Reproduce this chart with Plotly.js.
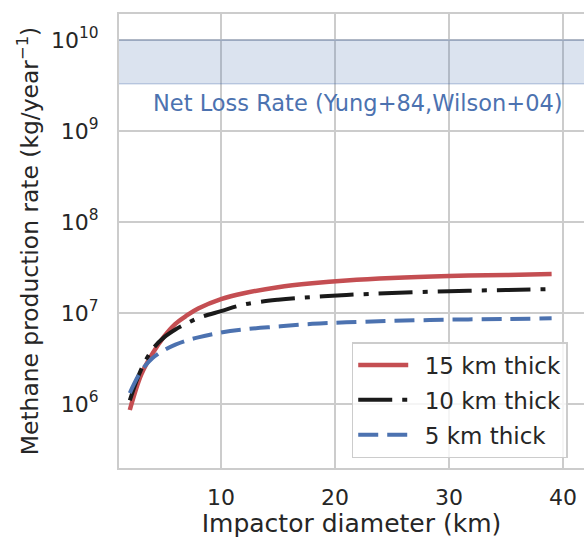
<!DOCTYPE html>
<html>
<head>
<meta charset="utf-8">
<script src="https://cdn.plot.ly/plotly-3.0.1.min.js"></script>
<style>html,body{margin:0;padding:0;background:#fff;}#chart{width:584px;height:538px;}</style>
</head>
<body>
<div id="chart"></div>
<script>
const diameterKm = [2, 3, 4, 5, 6, 7, 8, 10, 12, 15, 18, 21, 25, 30, 35, 39];
const rate15km = [8.6e5, 2.1e6, 3.6e6, 5.5e6, 7.6e6, 9.4e6, 1.12e7, 1.42e7, 1.65e7, 1.92e7, 2.12e7, 2.28e7, 2.43e7, 2.55e7, 2.62e7, 2.68e7];
const rate10km = [1.1e6, 2.4e6, 4.0e6, 5.4e6, 6.6e6, 7.7e6, 8.8e6, 1.05e7, 1.24e7, 1.40e7, 1.50e7, 1.58e7, 1.66e7, 1.74e7, 1.79e7, 1.83e7];
const rate5km = [1.32e6, 2.3e6, 3.2e6, 3.9e6, 4.5e6, 5.0e6, 5.4e6, 6.1e6, 6.6e6, 7.1e6, 7.6e6, 7.9e6, 8.2e6, 8.45e6, 8.6e6, 8.75e6];
const seriesNames = ['15 km thick', '10 km thick', '5 km thick'];
const netLossBand = [3.3e9, 1.0e10];
const netLossLabel = 'Net Loss Rate (Yung+84,Wilson+04)';
const yTickVals = [1e6, 1e7, 1e8, 1e9, 1e10];
const yTickText = ['10<sup>6</sup>', '10<sup>7</sup>', '10<sup>8</sup>', '10<sup>9</sup>', '10<sup>10</sup>'];
const xTickVals = [10, 20, 30, 40];

const font = 'DejaVu Sans, Verdana, sans-serif';
const pad = '\u2002';
const traces = [
  {x: diameterKm, y: rate15km, name: pad + seriesNames[0], legendgroup: 'a', mode: 'lines', line: {color: '#C44E52', width: 4.5, shape: 'spline'}},
  {x: diameterKm, y: rate10km, name: pad + seriesNames[1], legendgroup: 'b', mode: 'lines', line: {color: '#1a1a1a', width: 4, dash: '34px,10px,5px,10px', shape: 'spline'}},
  {x: diameterKm, y: rate5km, name: pad + seriesNames[2], legendgroup: 'c', mode: 'lines', line: {color: '#4C72B0', width: 4, dash: '20px,9px', shape: 'spline'}}
];
const bandEdge = {color: 'rgba(76,114,176,0.3)', width: 1.5};
const layout = {
  width: 584, height: 538,
  margin: {l: 119, r: 0, t: 14, b: 70},
  paper_bgcolor: '#fff', plot_bgcolor: '#fff',
  font: {family: font, color: '#262626', size: 22},
  showlegend: true,
  legend: {x: 0.965, y: 0.022, xanchor: 'right', yanchor: 'bottom',
    bgcolor: 'rgba(255,255,255,0.8)', bordercolor: '#cccccc', borderwidth: 1.5,
    font: {size: 23, color: '#262626'}, itemwidth: 50, traceorder: 'grouped', tracegroupgap: 2},
  xaxis: {range: [1.053, 41.84], tickvals: xTickVals, showgrid: true, gridcolor: '#cccccc', gridwidth: 1.5,
    showline: true, mirror: true, linecolor: '#cccccc', linewidth: 2, zeroline: false,
    ticks: '', ticklabelstandoff: 9, tickfont: {size: 22},
    title: {text: 'Impactor diameter (km)', font: {size: 25}, standoff: 14}},
  yaxis: {type: 'log', range: [5.297, 10.286], tickvals: yTickVals, ticktext: yTickText,
    showgrid: true, gridcolor: '#cccccc', gridwidth: 1.5,
    showline: true, mirror: false, linecolor: '#cccccc', linewidth: 2, zeroline: false,
    ticks: '', ticklabelstandoff: 14, tickfont: {size: 22},
    title: {text: 'Methane production rate (kg/year<sup>\u22121</sup>)', font: {size: 23.4}, standoff: 6}},
  shapes: [
    {type: 'rect', xref: 'paper', yref: 'y', x0: 0, x1: 1, y0: netLossBand[0], y1: netLossBand[1],
      fillcolor: 'rgba(76,114,176,0.2)', line: {width: 0}, layer: 'above'},
    {type: 'line', xref: 'paper', yref: 'y', x0: 0, x1: 1, y0: netLossBand[0], y1: netLossBand[0], line: bandEdge, layer: 'above'},
    {type: 'line', xref: 'paper', yref: 'y', x0: 0, x1: 1, y0: netLossBand[1], y1: netLossBand[1], line: bandEdge, layer: 'above'}
  ],
  annotations: [{text: netLossLabel, xref: 'x', yref: 'y', x: 22.0, y: 9.308,
    xanchor: 'center', yanchor: 'middle', showarrow: false, font: {size: 22.5, color: '#4C72B0'}}]
};
Plotly.newPlot('chart', traces, layout, {displayModeBar: false, staticPlot: true});
</script>
</body>
</html>
